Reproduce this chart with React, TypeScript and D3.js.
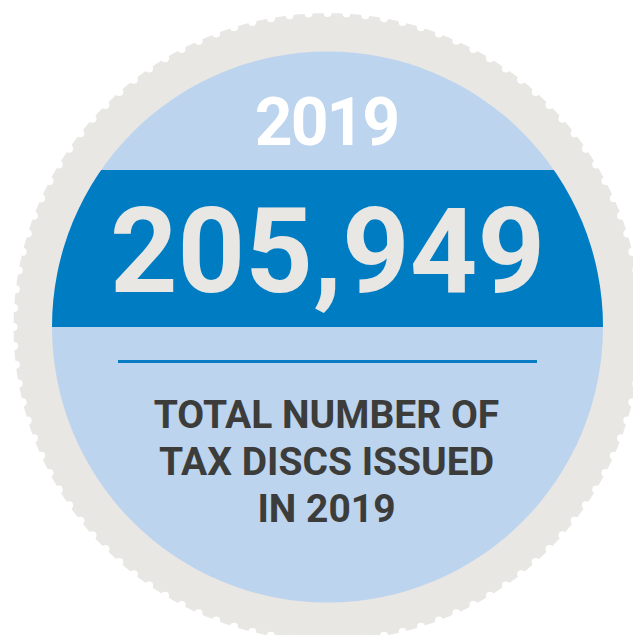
import React, { useEffect, useRef } from "react";
import * as d3 from "d3";

const yearLabel = ["2019"];
const totalValue = [205949];
const captionLines = ["TOTAL NUMBER OF", "TAX DISCS ISSUED", "IN 2019"];

const W = 633;
const H = 635;

export default function App() {
  const ref = useRef<SVGSVGElement | null>(null);

  useEffect(() => {
    const svg = d3.select(ref.current);
    svg.selectAll("*").remove();

    const cx = 327.5;
    const cy = 327;
    const outerR = 314;
    const innerR = 275.5;
    const notchCount = 104;
    const notchR = 4;

    // outer grey disc
    svg.append("circle").attr("cx", cx).attr("cy", cy).attr("r", outerR).attr("fill", "#E8E7E4");

    // perforation notches
    const angles = d3.range(notchCount).map((i) => (i / notchCount) * 2 * Math.PI);
    svg
      .append("g")
      .selectAll("circle")
      .data(angles)
      .join("circle")
      .attr("cx", (a) => cx + outerR * Math.cos(a))
      .attr("cy", (a) => cy + outerR * Math.sin(a))
      .attr("r", notchR)
      .attr("fill", "#ffffff");

    // inner light blue disc
    const defs = svg.append("defs");
    defs
      .append("clipPath")
      .attr("id", "innerClip")
      .append("circle")
      .attr("cx", cx)
      .attr("cy", cy)
      .attr("r", innerR);

    svg.append("circle").attr("cx", cx).attr("cy", cy).attr("r", innerR).attr("fill", "#BDD4EE");

    // blue band
    const yScale = d3.scaleLinear().domain([0, 1]).range([170, 327]);
    svg
      .append("rect")
      .attr("clip-path", "url(#innerClip)")
      .attr("x", 0)
      .attr("y", yScale(0))
      .attr("width", W)
      .attr("height", yScale(1) - yScale(0))
      .attr("fill", "#007CC3");

    // year
    svg
      .append("text")
      .attr("x", cx - 1)
      .attr("y", 145)
      .attr("text-anchor", "middle")
      .attr("font-family", "Roboto, sans-serif")
      .attr("font-weight", 700)
      .attr("font-size", 66)
      .attr("letter-spacing", -2)
      .attr("fill", "#ffffff")
      .text(yearLabel[0]);

    // big number
    svg
      .append("text")
      .attr("x", cx)
      .attr("y", 292)
      .attr("text-anchor", "middle")
      .attr("font-family", "Roboto, sans-serif")
      .attr("font-weight", 700)
      .attr("font-size", 118)
      .attr("fill", "#E8E7E4")
      .text(d3.format(",")(totalValue[0]));

    // divider line
    svg
      .append("line")
      .attr("x1", 118)
      .attr("x2", 537)
      .attr("y1", 361.5)
      .attr("y2", 361.5)
      .attr("stroke", "#0A7CC4")
      .attr("stroke-width", 3);

    // caption
    svg
      .append("g")
      .selectAll("text")
      .data(captionLines)
      .join("text")
      .attr("x", cx - 1)
      .attr("y", (_d, i) => 428 + i * 47)
      .attr("text-anchor", "middle")
      .attr("font-family", "Roboto, sans-serif")
      .attr("font-weight", 700)
      .attr("font-size", 39)
      .attr("fill", "#3C3C3B")
      .text((d) => d);
  }, []);

  return (
    <svg
      ref={ref}
      width={W}
      height={H}
      style={{ position: "absolute", left: 0, top: 0, background: "#ffffff" }}
    />
  );
}
